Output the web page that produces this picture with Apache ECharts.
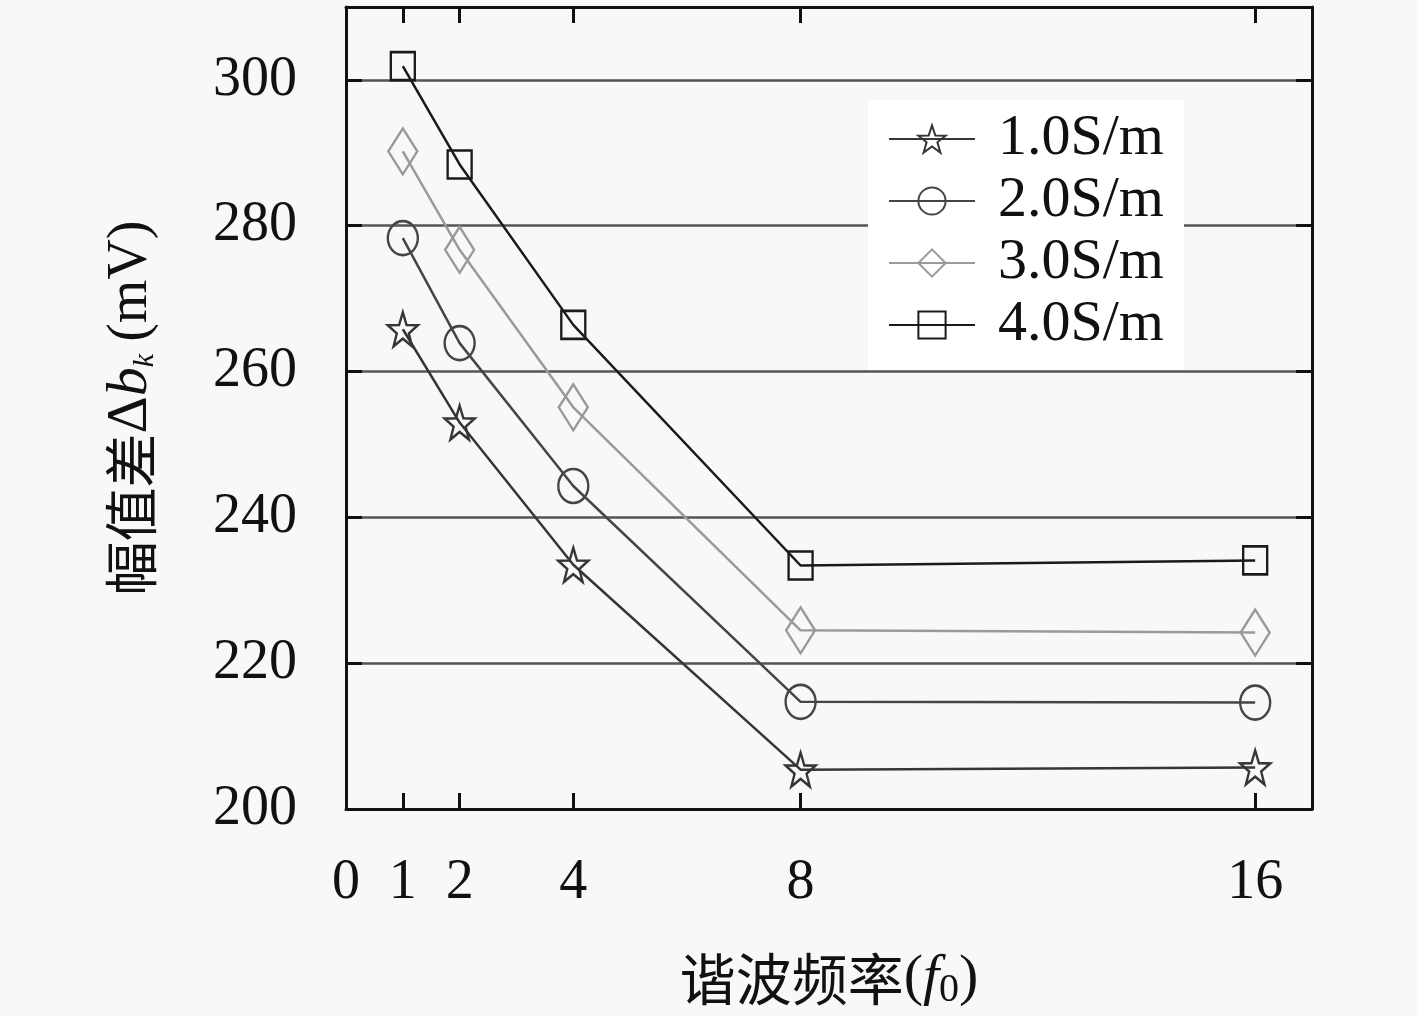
<!DOCTYPE html>
<html>
<head>
<meta charset="utf-8">
<script src="https://cdn.jsdelivr.net/npm/echarts@6/dist/echarts.min.js"></script>
<style>
html,body{margin:0;padding:0;background:#f8f8f8;}
#chart{width:1417px;height:1016px;}
</style>
</head>
<body>
<div id="chart"></div>
<script>
const harmonics = [1, 2, 4, 8, 16];
const xTickLabels = [0, 1, 2, 4, 8, 16];
const yTickLabels = [200, 220, 240, 260, 280, 300];
const seriesNames = ['1.0S/m', '2.0S/m', '3.0S/m', '4.0S/m'];
const s10 = [265.8, 253.0, 233.5, 205.4, 205.7];
const s20 = [278.3, 263.9, 244.3, 214.7, 214.6];
const s30 = [290.2, 276.7, 255.1, 224.5, 224.2];
const s40 = [301.9, 288.4, 266.4, 233.4, 234.1];

const seriesValues = [s10, s20, s30, s40];
const colors = ['#363636', '#454545', '#9a9a9a', '#1a1a1a'];
const starPath = 'path://M0,-10 L2.35,-3.24 9.51,-3.09 3.8,1.24 5.88,8.09 0,4 -5.88,8.09 -3.8,1.24 -9.51,-3.09 -2.35,-3.24Z';
const symbols = [starPath, 'circle', 'diamond', 'rect'];
const symbolSizes = [[30, 34], [30, 34], [29, 46], [24, 28]];

const serif = 'Liberation Serif, DejaVu Serif, serif';
const cjk = 'Noto Sans CJK SC, Liberation Serif, serif';

const chart = echarts.init(document.getElementById('chart'), null, {renderer: 'canvas'});

const series = seriesNames.map((name, i) => ({
  name: name,
  type: 'line',
  data: harmonics.map((h, j) => [h, seriesValues[i][j]]),
  symbol: symbols[i],
  symbolSize: symbolSizes[i],
  showAllSymbol: true,
  lineStyle: {color: colors[i], width: 2.5},
  itemStyle: {color: 'none', borderColor: colors[i], borderWidth: 2.5},
  emphasis: {disabled: true},
  z: 3
}));

chart.setOption({
  backgroundColor: '#f8f8f8',
  animation: false,
  grid: {left: 346, right: 105, top: 7, bottom: 207},
  legend: {
    orient: 'vertical',
    left: 868,
    top: 100,
    padding: [10, 20, 16, 20],
    backgroundColor: '#ffffff',
    itemWidth: 86,
    itemHeight: 34,
    itemGap: 4,
    textStyle: {fontFamily: serif, fontSize: 58, color: '#111', padding: [0, 0, 0, 18]},
    data: seriesNames
  },
  xAxis: [{
    type: 'value',
    min: 0, max: 17, interval: 1,
    position: 'bottom',
    name: '谐波频率{p|(}{i|f}{s|0}{p|)}',
    nameLocation: 'middle',
    nameGap: 139,
    nameTextStyle: {
      fontFamily: cjk, fontSize: 56, color: '#111',
      rich: {
        p: {fontFamily: serif, fontSize: 58, color: '#111'},
        i: {fontFamily: serif, fontStyle: 'italic', fontSize: 58, color: '#111'},
        s: {fontFamily: serif, fontSize: 40, color: '#111', verticalAlign: 'bottom', padding: [22, 0, 0, 0]}
      }
    },
    axisLine: {show: true, onZero: false, lineStyle: {color: '#111', width: 3}},
    axisTick: {show: true, inside: true, length: 16, lineStyle: {color: '#111', width: 3}, customValues: harmonics},
    axisLabel: {show: true, margin: 46, fontFamily: serif, fontSize: 56, color: '#111', customValues: xTickLabels},
    splitLine: {show: false}
  }, {
    type: 'value',
    min: 0, max: 17, interval: 1,
    position: 'top',
    axisLine: {show: true, onZero: false, lineStyle: {color: '#111', width: 3}},
    axisTick: {show: true, inside: true, length: 16, lineStyle: {color: '#111', width: 3}, customValues: harmonics},
    axisLabel: {show: false},
    splitLine: {show: false}
  }],
  yAxis: [{
    type: 'value',
    min: 200, max: 310, interval: 20,
    position: 'left',
    name: '幅值差{d|Δ}{i|b}{s|k} {p|(mV)}',
    nameLocation: 'middle',
    nameRotate: 90,
    nameGap: 186,
    nameTextStyle: {
      fontFamily: cjk, fontSize: 54, color: '#111',
      rich: {
        d: {fontFamily: serif, fontSize: 58, color: '#111'},
        p: {fontFamily: serif, fontSize: 56, color: '#111'},
        i: {fontFamily: serif, fontStyle: 'italic', fontSize: 58, color: '#111'},
        s: {fontFamily: serif, fontStyle: 'italic', fontSize: 30, color: '#111', verticalAlign: 'bottom', padding: [20, 0, 0, 0]}
      }
    },
    axisLine: {show: true, onZero: false, lineStyle: {color: '#111', width: 3}},
    axisTick: {show: true, inside: true, length: 16, lineStyle: {color: '#111', width: 3}, customValues: yTickLabels},
    axisLabel: {show: true, margin: 49, fontFamily: serif, fontSize: 56, color: '#111', customValues: yTickLabels},
    splitLine: {show: true, lineStyle: {color: '#555', width: 2.5}}
  }, {
    type: 'value',
    min: 200, max: 310, interval: 20,
    position: 'right',
    axisLine: {show: true, onZero: false, lineStyle: {color: '#111', width: 3}},
    axisTick: {show: true, inside: true, length: 16, lineStyle: {color: '#111', width: 3}, customValues: yTickLabels},
    axisLabel: {show: false},
    splitLine: {show: false}
  }],
  series: series
});
</script>
</body>
</html>
